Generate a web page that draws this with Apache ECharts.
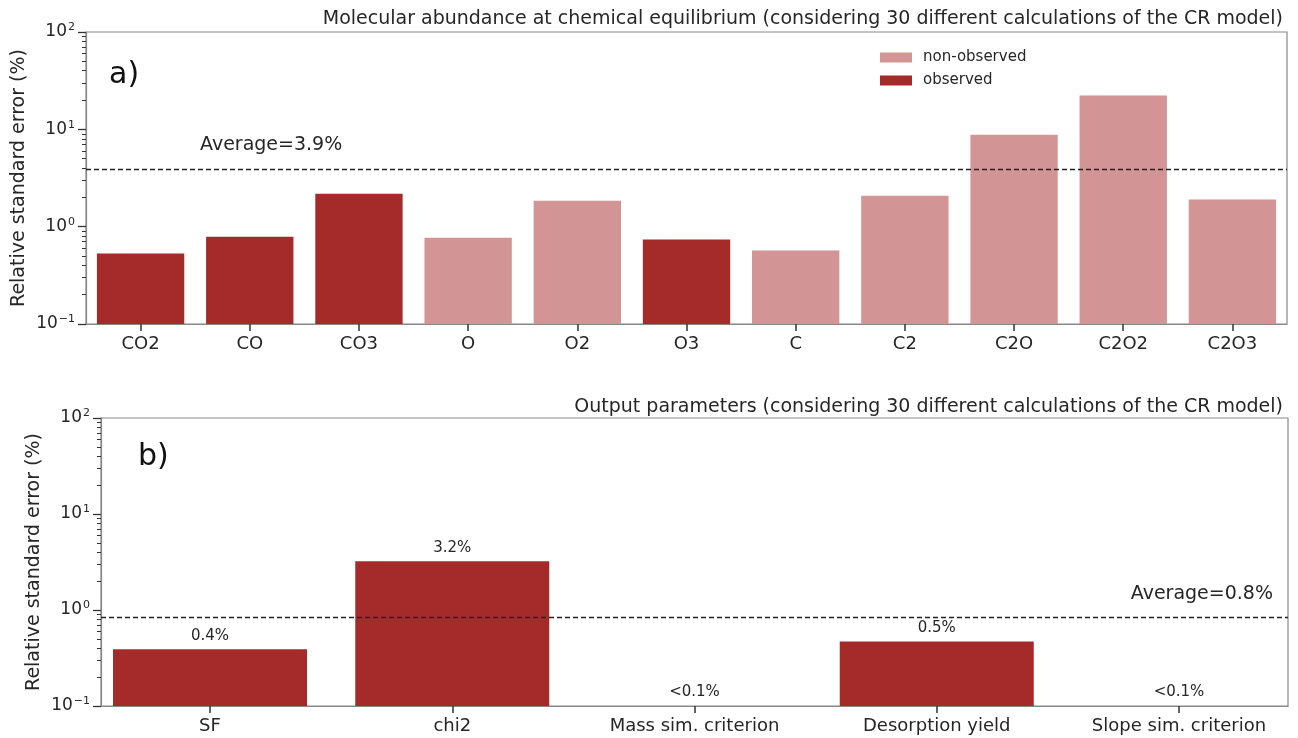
<!DOCTYPE html>
<html>
<head>
<meta charset="utf-8">
<script src="https://cdn.jsdelivr.net/npm/echarts@6/dist/echarts.min.js"></script>
<style>
html, body { margin: 0; padding: 0; background: #fff; }
#chart { width: 1298px; height: 738px; }
</style>
</head>
<body>
<div id="chart"></div>
<script>
// panel a) molecules
var molecules = ['CO2', 'CO', 'CO3', 'O', 'O2', 'O3', 'C', 'C2', 'C2O', 'C2O2', 'C2O3'];
var molValues = [0.53, 0.79, 2.18, 0.77, 1.85, 0.74, 0.57, 2.08, 8.8, 22.2, 1.9];
var molObserved = [true, true, true, false, false, true, false, false, false, false, false];
var molAverage = 3.9;

// panel b) output parameters
var params = ['SF', 'chi2', 'Mass sim. criterion', 'Desorption yield', 'Slope sim. criterion'];
var paramPos = [0, 1, 2, 3, 4];
var paramValues = [0.39, 3.22, 0.1, 0.47, 0.1];
var paramLabels = ['0.4%', '3.2%', '<0.1%', '0.5%', '<0.1%'];
var paramAverage = 0.84;

// log axis ticks
var majorTicks = [0.1, 1, 10, 100];
var minorTicks = [0.2, 0.3, 0.4, 0.5, 0.6, 0.7, 0.8, 0.9,
	2, 3, 4, 5, 6, 7, 8, 9,
	20, 30, 40, 50, 60, 70, 80, 90];

var FONT = 'DejaVu Sans';
var OBS = '#a52a2a';
var NONOBS = '#d29494';
var TXT = '#262626';

var myChart = echarts.init(document.getElementById('chart'));

function sup(v) {
	var e = Math.round(Math.log10(v));
	return '{b|10}{s|' + (e < 0 ? '\u2212' + (-e) : e) + '}';
}

function yAxisOpt(idx, gap) {
	return {
		gridIndex: idx,
		type: 'log',
		logBase: 10,
		min: 0.1,
		max: 100,
		startValue: 0.1,
		position: 'left',
		name: 'Relative standard error (%)',
		nameLocation: 'middle',
		nameGap: gap,
		nameMoveOverlap: false,
		nameTextStyle: { fontFamily: FONT, fontSize: 19, color: TXT },
		axisLine: { show: true, onZero: false, lineStyle: { color: '#888', width: 1.2 } },
		axisTick: { show: true, length: 8, customValues: majorTicks, lineStyle: { color: '#333', width: 1.3 } },
		axisLabel: {
			formatter: sup,
			margin: 11,
			customValues: majorTicks,
			rich: {
				b: { fontFamily: FONT, fontSize: 17, color: TXT, lineHeight: 20 },
				s: { fontFamily: FONT, fontSize: 11, color: TXT, lineHeight: 20, verticalAlign: 'top', padding: [0, 0, 10, 1] }
			}
		},
		splitLine: { show: false }
	};
}

// second log axis only for the minor ticks
function minorAxisOpt(idx) {
	return {
		gridIndex: idx,
		type: 'log',
		logBase: 10,
		min: 0.1,
		max: 100,
		position: 'left',
		axisLine: { show: false, onZero: false },
		axisTick: { show: true, length: 4, customValues: minorTicks, lineStyle: { color: '#333', width: 1 } },
		axisLabel: { show: false },
		splitLine: { show: false }
	};
}

var obsData = molValues.map(function (v, i) { return molObserved[i] ? v : '-'; });
var nonObsData = molValues.map(function (v, i) { return molObserved[i] ? '-' : v; });
var paramData = paramValues.map(function (v, i) { return [paramPos[i], v]; });

var avgLine = function (v) {
	return {
		silent: true,
		symbol: 'none',
		label: { show: false },
		lineStyle: { color: '#222', type: [5, 3], width: 1.3 },
		data: [{ yAxis: v }]
	};
};

var option = {
	backgroundColor: '#fff',
	animation: false,
	title: [
		{
			text: 'Molecular abundance at chemical equilibrium (considering 30 different calculations of the CR model)',
			right: 10, top: 5,
			textStyle: { fontFamily: FONT, fontSize: 19, fontWeight: 'normal', color: TXT }
		},
		{
			text: 'Output parameters (considering 30 different calculations of the CR model)',
			right: 10, top: 393,
			textStyle: { fontFamily: FONT, fontSize: 19, fontWeight: 'normal', color: TXT }
		}
	],
	legend: {
		orient: 'vertical',
		left: 875,
		top: 45,
		itemWidth: 32,
		itemHeight: 10,
		itemGap: 8,
		icon: 'rect',
		data: ['non-observed', 'observed'],
		textStyle: { fontFamily: FONT, fontSize: 15, color: TXT, padding: [0, 0, 0, 6] }
	},
	grid: [
		{ left: 86, top: 32, right: 11, height: 292, show: true, borderColor: '#888', borderWidth: 1.2 },
		{ left: 101, top: 418, right: 10, height: 288, show: true, borderColor: '#888', borderWidth: 1.2 }
	],
	xAxis: [
		{
			gridIndex: 0,
			type: 'category',
			data: molecules,
			axisLine: { show: true, lineStyle: { color: '#888', width: 1.2 } },
			axisTick: { show: true, alignWithLabel: true, length: 7, lineStyle: { color: '#333', width: 1.5 } },
			axisLabel: { fontFamily: FONT, fontSize: 18, color: TXT, margin: 11, interval: 0 },
			splitLine: { show: false }
		},
		{
			gridIndex: 1,
			type: 'value',
			min: -0.45,
			max: 4.45,
			axisLine: { show: true, onZero: false, lineStyle: { color: '#888', width: 1.2 } },
			axisTick: { show: true, length: 7, customValues: paramPos, lineStyle: { color: '#333', width: 1.5 } },
			axisLabel: {
				fontFamily: FONT, fontSize: 18, color: TXT, margin: 11,
				customValues: paramPos,
				formatter: function (v) { return params[Math.round(v)]; }
			},
			splitLine: { show: false }
		}
	],
	yAxis: [yAxisOpt(0, 57), yAxisOpt(1, 57), minorAxisOpt(0), minorAxisOpt(1)],
	graphic: [
		{ type: 'text', left: 109, top: 60, style: { text: 'a)', fontFamily: FONT, fontSize: 30, fill: '#111' } },
		{ type: 'text', left: 138, top: 442, style: { text: 'b)', fontFamily: FONT, fontSize: 30, fill: '#111' } },
		{ type: 'text', left: 200, top: 136, style: { text: 'Average=3.9%', fontFamily: FONT, fontSize: 19, fill: TXT } },
		{ type: 'text', right: 25, top: 585, style: { text: 'Average=0.8%', fontFamily: FONT, fontSize: 19, fill: TXT } }
	],
	series: [
		{
			name: 'non-observed',
			type: 'bar',
			xAxisIndex: 0, yAxisIndex: 0,
			data: nonObsData,
			barCategoryGap: '20%',
			barGap: '-100%',
			itemStyle: { color: NONOBS },
			markLine: avgLine(molAverage)
		},
		{
			name: 'observed',
			type: 'bar',
			xAxisIndex: 0, yAxisIndex: 0,
			data: obsData,
			barCategoryGap: '20%',
			barGap: '-100%',
			itemStyle: { color: OBS }
		},
		{
			name: 'params',
			type: 'bar',
			xAxisIndex: 1, yAxisIndex: 1,
			data: paramData,
			barWidth: 194,
			itemStyle: { color: OBS },
			label: {
				show: true,
				position: 'top',
				distance: 6,
				fontFamily: FONT,
				fontSize: 15,
				color: TXT,
				formatter: function (p) { return paramLabels[p.dataIndex]; }
			},
			markLine: avgLine(paramAverage)
		}
	]
};

myChart.setOption(option);
</script>
</body>
</html>
